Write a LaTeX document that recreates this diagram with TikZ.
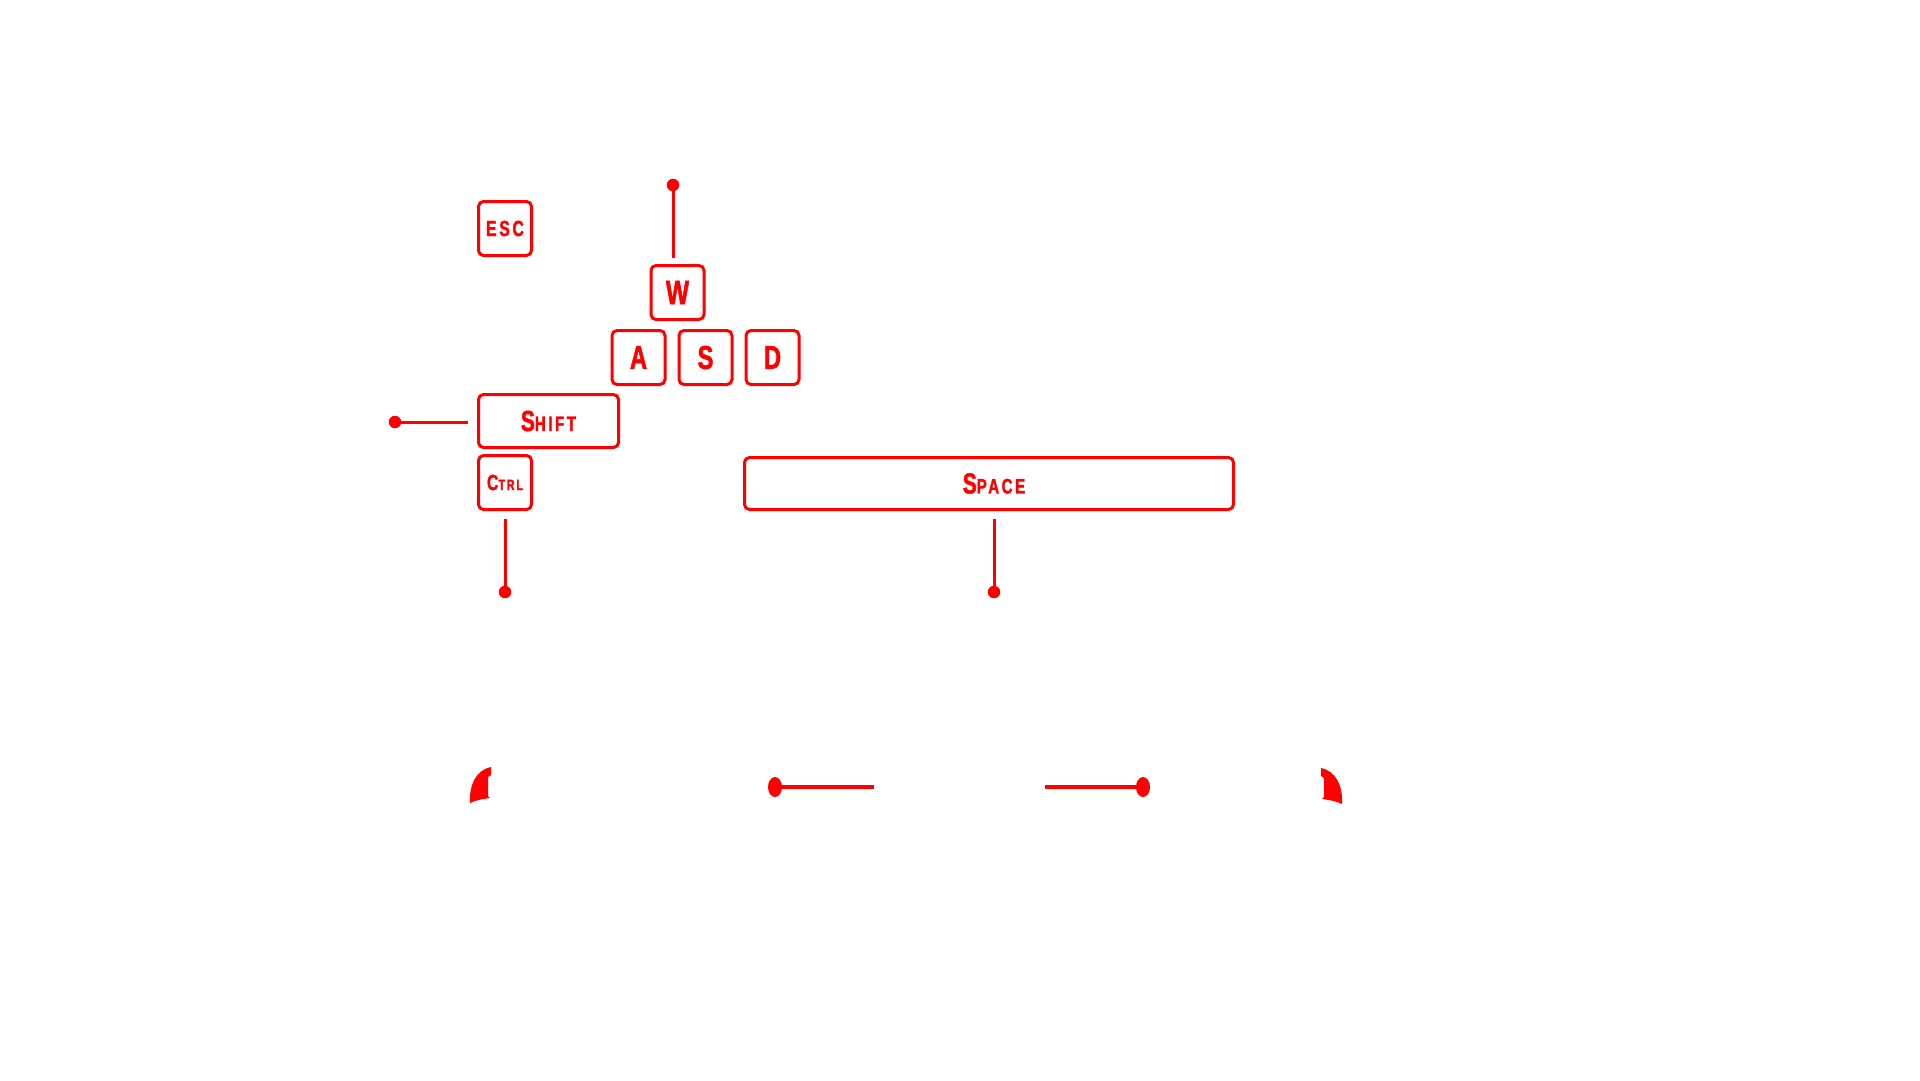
\documentclass[tikz,border=0pt]{standalone}
\usepackage{fontspec}
\newfontfamily\keyfont{Liberation Sans}[FakeStretch=0.72, LetterSpace=12, BoldFeatures={FakeBold=1.5}]
\usetikzlibrary{calc}
\definecolor{keyred}{RGB}{255,0,0}
\tikzset{
  keybox/.style={draw=keyred, line width=3pt, rounded corners=5pt, inner sep=0pt,
    text=keyred, font=\keyfont\bfseries, minimum width=53pt, minimum height=54pt},
  conn/.style={draw=keyred, line width=3pt},
  pin/.style={fill=keyred, circle, inner sep=0pt, minimum size=12.5pt},
  horn/.style={fill=keyred},
}
\newcommand{\bigk}[1]{{\fontsize{33}{33}\selectfont #1}}
\begin{document}
\begin{tikzpicture}[x=1pt,y=-1pt]
\useasboundingbox (0,0) rectangle (1920,1080);

% keys
\node[keybox] (esc) at (505,228.5) {\fontsize{22}{22}\selectfont ESC};
\node[keybox] (w) at (677.5,292.5) {\fontsize{34}{34}\selectfont W};
\node[keybox] (a) at (638.5,357.5) {\bigk{A}};
\node[keybox] (s) at (705.5,357.5) {\bigk{S}};
\node[keybox] (d) at (772.5,357.5) {\bigk{D}};
\node[keybox, minimum width=140pt, minimum height=53pt] (shift) at (548.5,421)
  {{\fontsize{29}{29}\selectfont S}{\fontsize{21}{21}\selectfont HIFT}};
\node[keybox] (ctrl) at (505,482.5)
  {{\fontsize{22}{22}\selectfont C}{\fontsize{15}{15}\selectfont TRL}};
\node[keybox, minimum width=489pt, minimum height=52pt] (space) at (989,483.5)
  {\hspace{10pt}{\fontsize{29}{29}\selectfont S}{\fontsize{21}{21}\selectfont PACE}};

% pins
\node[pin] (wdot) at (673,185) {};
\node[pin] (shiftdot) at (395,422) {};
\node[pin] (ctrldot) at (505,592) {};
\node[pin] (spacedot) at (994,592) {};

% connectors
\draw[conn, shorten >=6pt] (wdot.center) -- (wdot.center |- w.north);
\draw[conn, shorten >=9pt] (shiftdot.center) -- (shiftdot.center -| shift.west);
\draw[conn, shorten <=8pt] (ctrldot.center |- ctrl.south) -- (ctrldot.center);
\draw[conn, shorten <=8pt] (spacedot.center |- space.south) -- (spacedot.center);

% bottom ornaments
\coordinate (bl) at (775,787);
\coordinate (blend) at (874,787);
\coordinate (brstart) at (1045,787);
\coordinate (br) at (1143,787);
\draw[keyred, line width=3.5pt] (bl) -- (blend);
\draw[keyred, line width=3.5pt] (brstart) -- (br);
\fill[keyred] (bl) ellipse [x radius=7pt, y radius=10pt];
\fill[keyred] (br) ellipse [x radius=7pt, y radius=10pt];

\fill[horn] (470,803) .. controls (469,785) and (476,770) .. (491,767)
  -- (491,775) -- (488,777) -- (488,796) -- (490,798)
  .. controls (481,799) and (474,801) .. (470,803) -- cycle;
\begin{scope}[shift={(1812,1)}, xscale=-1]
\fill[horn] (470,803) .. controls (469,785) and (476,770) .. (491,767)
  -- (491,775) -- (488,777) -- (488,796) -- (490,798)
  .. controls (481,799) and (474,801) .. (470,803) -- cycle;
\end{scope}
\end{tikzpicture}
\end{document}
